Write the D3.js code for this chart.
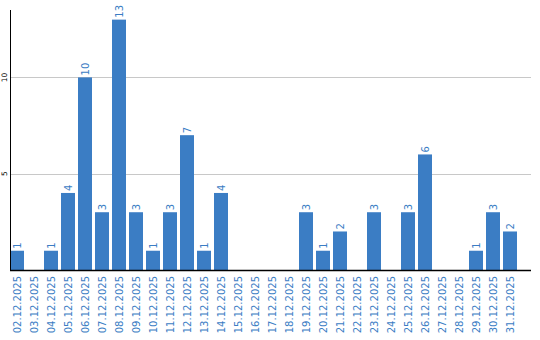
<!DOCTYPE html>
<html>
<head>
<meta charset="utf-8">
<script src="https://cdn.jsdelivr.net/npm/d3@7"></script>
<style>
  body { margin: 0; background: #fff; }
  svg { display: block; font-family: "DejaVu Sans", Verdana, sans-serif; }
  .grid line { stroke: #c8c8c8; stroke-width: 1; }
  .bar { fill: #3b7dc4; }
  .val, .xlab { fill: #3b7dc4; font-size: 10px; }
  .ylab { fill: #000; font-size: 7.5px; }
</style>
</head>
<body>
<svg width="540" height="340"></svg>
<script>
// december 2025, one count per day
var days = ["02.12.2025", "03.12.2025", "04.12.2025", "05.12.2025", "06.12.2025",
    "07.12.2025", "08.12.2025", "09.12.2025", "10.12.2025", "11.12.2025",
    "12.12.2025", "13.12.2025", "14.12.2025", "15.12.2025", "16.12.2025",
    "17.12.2025", "18.12.2025", "19.12.2025", "20.12.2025", "21.12.2025",
    "22.12.2025", "23.12.2025", "24.12.2025", "25.12.2025", "26.12.2025",
    "27.12.2025", "28.12.2025", "29.12.2025", "30.12.2025", "31.12.2025"];
var counts = [1, 0, 1, 4, 10, 3, 13, 3, 1, 3,
    7, 1, 4, 0, 0, 0, 0, 3, 1, 2,
    0, 3, 0, 3, 6, 0, 0, 1, 3, 2];
var yTicks = [5, 10];

var svg = d3.select("svg");
// note: "top" is taken by window.top
var plotLeft = 10, plotBottom = 270, plotTop = 10, plotRight = 531;

var x = d3.scaleBand()
    .domain(days)
    .range([plotLeft, 517])
    .paddingInner(3 / 17)
    .paddingOuter(0);

var y = d3.scaleLinear()
    .domain([0, 13.5])
    .range([plotBottom, plotTop]);

var data = days.map(function(d, i) {
    return { day: d, n: counts[i] };
});

// horizontal grid
svg.append("g")
    .attr("class", "grid")
    .selectAll("line")
    .data(yTicks)
    .enter().append("line")
    .attr("x1", plotLeft)
    .attr("x2", plotRight)
    .attr("y1", d => Math.round(y(d)) + 0.5)
    .attr("y2", d => Math.round(y(d)) + 0.5);

svg.selectAll(".bar")
    .data(data.filter(d => d.n > 0))
    .enter().append("rect")
    .attr("class", "bar")
    .attr("x", d => x(d.day))
    .attr("width", x.bandwidth())
    .attr("y", d => y(d.n))
    .attr("height", d => plotBottom - y(d.n));

// counts on top of the bars
svg.selectAll(".val")
    .data(data.filter(d => d.n > 0))
    .enter().append("text")
    .attr("class", "val")
    .attr("transform", d => "translate(" + (x(d.day) + x.bandwidth() / 2) + "," + (y(d.n) - 2) + ") rotate(-90)")
    .attr("dy", "0.35em")
    .text(d => d.n);

// y labels
svg.selectAll(".ylab")
    .data(yTicks)
    .enter().append("text")
    .attr("class", "ylab")
    .attr("transform", d => "translate(4.5," + y(d) + ") rotate(-90)")
    .attr("text-anchor", "middle")
    .attr("dy", "0.35em")
    .text(d => d);

// x labels
svg.selectAll(".xlab")
    .data(days)
    .enter().append("text")
    .attr("class", "xlab")
    .attr("transform", d => "translate(" + (x(d) + x.bandwidth() / 2) + "," + (plotBottom + 6) + ") rotate(-90)")
    .attr("text-anchor", "end")
    .attr("dy", "0.35em")
    .text(d => d);

// axis lines
svg.append("line")
    .attr("x1", plotLeft + 0.5).attr("x2", plotLeft + 0.5)
    .attr("y1", plotTop).attr("y2", plotBottom)
    .attr("stroke", "#000");
svg.append("line")
    .attr("x1", plotLeft).attr("x2", plotRight)
    .attr("y1", plotBottom + 0.5).attr("y2", plotBottom + 0.5)
    .attr("stroke", "#000")
    .attr("stroke-width", 1.5);
</script>
</body>
</html>
